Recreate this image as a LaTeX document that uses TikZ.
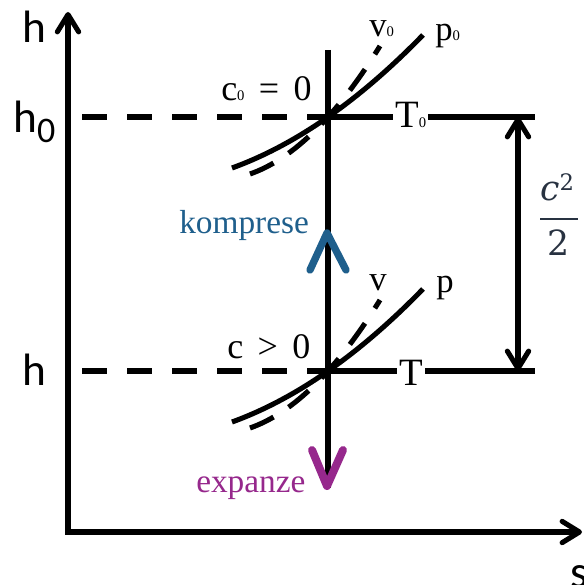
\documentclass[tikz,border=0pt]{standalone}
\usepackage{fontspec}
\setmainfont{Liberation Serif}
\newfontfamily\calib{Carlito}
\newfontfamily\fracfont{DejaVu Serif}
\usetikzlibrary{arrows.meta}
\definecolor{kompcol}{RGB}{31,95,140}
\definecolor{expcol}{RGB}{150,40,140}
\definecolor{fraccol}{RGB}{40,50,65}
\newcommand\subz{{\fontsize{11}{11}\selectfont 0}}
\begin{document}
\begin{tikzpicture}[x=0.75pt,y=-0.75pt,
  heavy/.style={line width=3.8pt},
  barb/.tip={Straight Barb[length=13pt,width=16pt,round]},
  dashline/.style={heavy, dash pattern=on 18.75pt off 15pt},
  vcurve/.style={heavy, dash pattern=on 19.5pt off 13.5pt},
  pcurve/.style={heavy},
  sanslab/.style={font=\calib\fontsize{34}{40}\selectfont, inner sep=0pt, anchor=base west},
  serlab/.style={font=\fontsize{26}{30}\selectfont, inner sep=0pt, anchor=base west},
  tlab/.style={font=\fontsize{29}{34}\selectfont, inner xsep=1.5pt, inner ysep=0pt, anchor=base west},
  chev/.style={line width=5.5pt, line cap=round, line join=round},
  fractxt/.style={text=fraccol, inner sep=0pt, anchor=base, font=\fracfont\fontsize{26}{30}\selectfont},
  isolines/.pic={
    \draw[vcurve] (-78,57) .. controls (-34.7,41.8) and (8.7,-0.8) .. (52,-71);
    \draw[pcurve] (-96,51) .. controls (-32.4,27.9) and (31.3,-16.5) .. (95,-82);
  }]
\useasboundingbox (0,0) rectangle (584,585);

% axes
\coordinate (Ytip) at (68,12);
\coordinate (Orig) at (68,532);
\coordinate (Xtip) at (582,532);
\draw[heavy, line join=miter, barb-barb] (Ytip) -- (Orig) -- (Xtip);

\node[sanslab] (hlab) at (22,43) {h};
\node[sanslab] (h0lab) at (13,132) {h\raisebox{-7.5pt}{\fontsize{27}{27}\selectfont 0}};
\node[sanslab] (hlow) at (22,385) {h};
\node[sanslab] (slab) at (570,587) {s};

% key points
\coordinate (O0) at (328,117);
\coordinate (O1) at (328,371);
\coordinate (D0) at (82,117);
\coordinate (D1) at (82,371);
\coordinate (E0) at (535,117);
\coordinate (E1) at (535,371);
\coordinate (Vtop) at (328,50);
\coordinate (Vbot) at (328,488);
\coordinate (R0) at (518,117);
\coordinate (R1) at (518,371);

% isobars / isochores
\pic at (O0) {isolines};
\pic at (O1) {isolines};

% horizontal lines
\node[tlab] (T0) at (393,127) {T\subz};
\node[tlab] (T1) at (397,385) {T};
\draw[dashline] (D0) -- (O0);
\draw[dashline] (D1) -- (O1);
\draw[heavy] (O0) -- (O0 -| T0.west);
\draw[heavy] (O0 -| T0.east) -- (E0);
\draw[heavy] (O1) -- (O1 -| T1.west);
\draw[heavy] (O1 -| T1.east) -- (E1);

% central vertical line
\draw[heavy] (Vtop) -- (Vbot);

% labels of curves
\node[serlab] (v0) at (369,37) {v\subz};
\node[serlab] (p0) at (435,41) {p\subz};
\node[serlab] (v1) at (369,290) {v};
\node[serlab] (p1) at (436,292) {p};
\node[serlab, font=\fontsize{27}{30}\selectfont] (c0) at (221,100) {c\subz\hspace{0.4em}=\hspace{0.4em}0};
\node[serlab, font=\fontsize{27}{30}\selectfont] (c1) at (227,358) {c\hspace{0.4em}>\hspace{0.4em}0};

% compression / expansion
\draw[chev, kompcol] (310,270) -- (327,233) -- (346,270);
\draw[chev, expcol, line width=6pt] (312,450) -- (327,486) -- (343,450);
\node[serlab, font=\fontsize{25}{30}\selectfont, text=kompcol] (komp) at (179,233) {komprese};
\node[serlab, font=\fontsize{25}{30}\selectfont, text=expcol] (expa) at (196,492) {expanze};

% kinetic energy difference
\draw[heavy, barb-barb] (R0) -- (R1);
\node[fractxt] (fnum) at (557,200) {\textit{c}\raisebox{7.5pt}{\fontsize{17}{17}\selectfont 2}};
\node[fractxt] (fden) at (559,255) {2};
\coordinate (Bl) at (540,219);
\coordinate (Br) at (578,219);
\draw[fraccol, line width=1.7pt] (Bl) -- (Br);
\end{tikzpicture}
\end{document}
